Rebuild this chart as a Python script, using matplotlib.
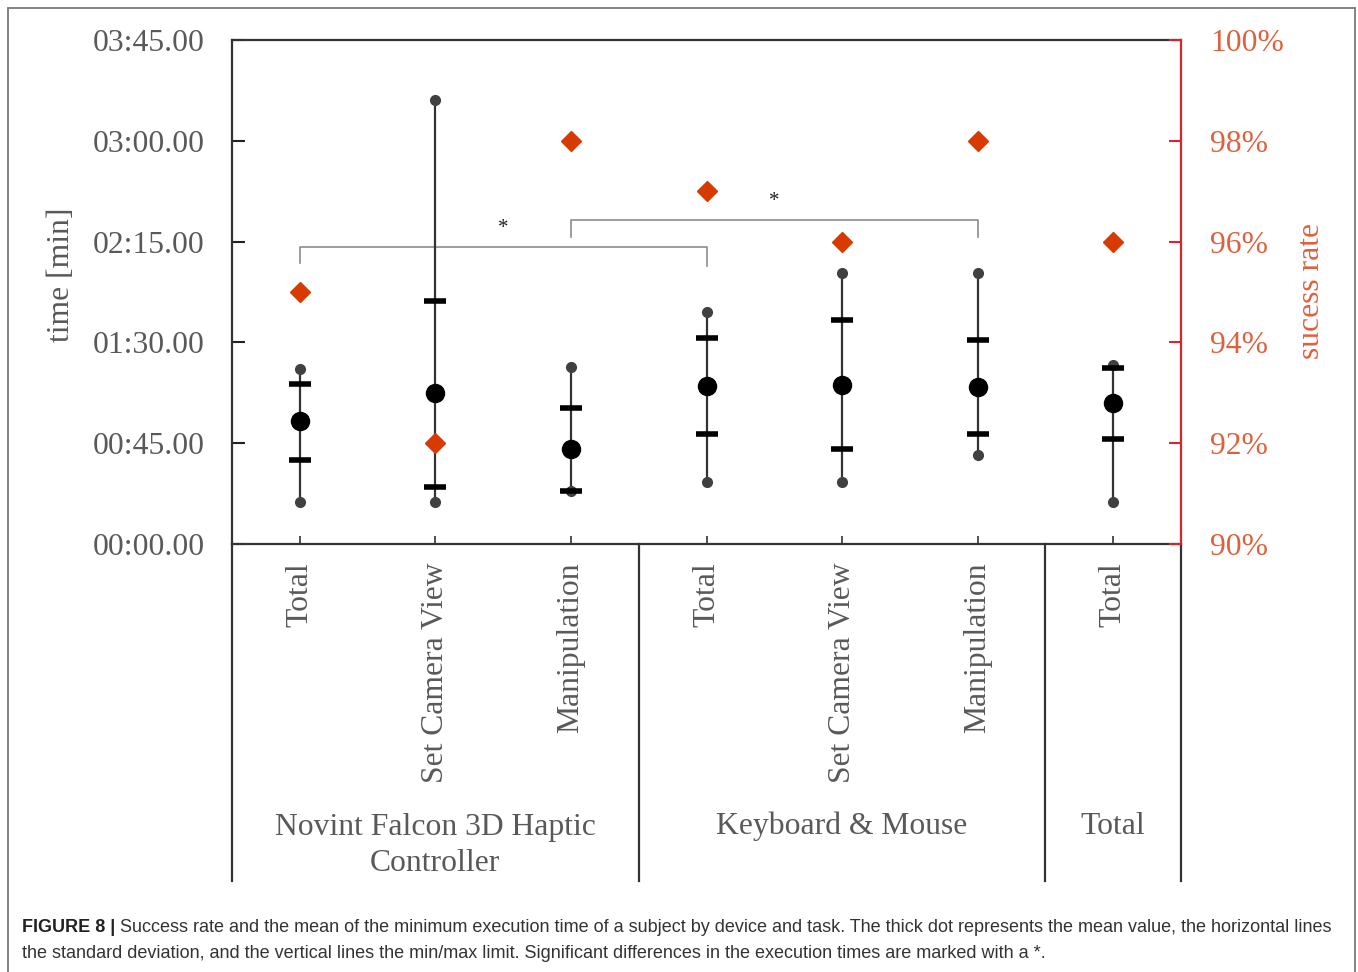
import matplotlib
matplotlib.use("Agg")
import matplotlib.pyplot as plt
from matplotlib.ticker import FuncFormatter, FixedLocator
from matplotlib.patches import Rectangle

# ---------------- data ----------------
categories = ["Total", "Set Camera View", "Manipulation",
              "Total", "Set Camera View", "Manipulation", "Total"]
groups = ["Novint Falcon 3D Haptic\nController", "Keyboard & Mouse", "Total"]
group_spans = [(0, 3), (3, 6), (6, 7)]
# times in seconds
mean_t = [54.9, 67.3, 42.3, 70.5, 70.8, 70.2, 62.8]
sd_hi = [71.4, 108.6, 60.6, 92.1, 100.0, 91.1, 78.7]
sd_lo = [37.5, 25.3, 23.8, 49.1, 42.3, 49.1, 46.9]
t_max = [78.1, 198.2, 78.9, 103.7, 120.8, 120.8, 79.9]
t_min = [18.8, 18.9, 23.7, 27.8, 27.8, 39.7, 18.6]
success = [95, 92, 98, 97, 96, 98, 96]
time_ticks = [0, 45, 90, 135, 180, 225]
rate_ticks = [90, 92, 94, 96, 98, 100]

caption_bold = "FIGURE 8 |"
caption_line1 = (" Success rate and the mean of the minimum execution time of a subject "
                 "by device and task. The thick dot represents the mean value, the horizontal lines")
caption_line2 = ("the standard deviation, and the vertical lines the min/max limit. "
                 "Significant differences in the execution times are marked with a *.")

SERIF = ["Liberation Serif", "DejaVu Serif"]
SANS = ["Liberation Sans", "DejaVu Sans"]
GRAY = "#595959"
RED_TXT = "#e0603c"
RED_AX = "#d9262b"
DIAM = "#d83b01"
FS = 22.8

fig = plt.figure(figsize=(13.58, 9.72), dpi=100)
ax = fig.add_axes([232/1358, 1-544/972, (1181-232)/1358, 504/972])
ax2 = ax.twinx()

xs = [i + 0.5 for i in range(len(categories))]

# whiskers
for x, lo, hi in zip(xs, t_min, t_max):
    ax.plot([x, x], [lo, hi], color="#333333", lw=1.6, zorder=3, solid_capstyle="butt")
ax.plot(xs, t_max, "o", color="#404040", ms=7, zorder=4)
ax.plot(xs, t_min, "o", color="#404040", ms=7, zorder=4)
ax.plot(xs, sd_hi, "_", color="black", ms=16, mew=4, zorder=5)
ax.plot(xs, sd_lo, "_", color="black", ms=16, mew=4, zorder=5)
ax.plot(xs, mean_t, "o", color="black", ms=13, zorder=6)

# significance brackets
bc = "#8c8c8c"
ax.plot([0.5, 0.5, 3.5, 3.5], [125.6, 132.6, 132.6, 123.9], color=bc, lw=1.2, zorder=2)
ax.plot([2.5, 2.5, 5.5, 5.5], [137.1, 144.6, 144.6, 137.1], color=bc, lw=1.2, zorder=2)
ax.text(2.0, 141.0, "*", ha="center", va="center", fontsize=15, family=SERIF, color="#222")
ax.text(4.0, 152.7, "*", ha="center", va="center", fontsize=15, family=SERIF, color="#222")

ax.set_xlim(0, 7)
ax.set_ylim(0, 225)
ax.yaxis.set_major_locator(FixedLocator(time_ticks))

def tfmt(v, pos):
    m = int(v // 60)
    s = v - 60 * m
    return f"{m:02d}:{s:05.2f}"

ax.yaxis.set_major_formatter(FuncFormatter(tfmt))
ax.set_xticks(xs)
ax.set_xticklabels([])
ax.tick_params(axis="x", direction="in", length=6, width=1.2, color="#333")
ax.tick_params(axis="y", direction="in", length=9, width=1.5, color="#222",
               labelsize=FS, labelcolor=GRAY, pad=19.5)
for lab in ax.get_yticklabels():
    lab.set_family(SERIF)

for s in ["left", "bottom", "top"]:
    ax.spines[s].set_color("#333333")
    ax.spines[s].set_linewidth(1.6)
ax.spines["right"].set_visible(False)

# right axis
ax2.set_ylim(90, 100)
ax2.plot(xs, success, "D", color=DIAM, ms=10, zorder=7)
ax2.yaxis.set_major_locator(FixedLocator(rate_ticks))
ax2.yaxis.set_major_formatter(FuncFormatter(lambda v, p: f"{int(round(v))}%"))
ax2.tick_params(axis="y", direction="in", length=9, width=1.5, color=RED_AX,
                labelsize=FS, labelcolor=RED_TXT, pad=20.8)
for lab in ax2.get_yticklabels():
    lab.set_family(SERIF)
ax2.spines["right"].set_color(RED_AX)
ax2.spines["right"].set_linewidth(1.6)
for s in ["left", "bottom", "top"]:
    ax2.spines[s].set_visible(False)

# axis titles
ax.text(-0.180, 0.534, "time [min]", transform=ax.transAxes, rotation=90,
        ha="center", va="center", fontsize=FS, family=SERIF, color=GRAY)
ax.text(1.137, 0.501, "sucess rate", transform=ax.transAxes, rotation=90,
        ha="center", va="center", fontsize=FS, family=SERIF, color=RED_TXT)

# category labels
tr = ax.get_xaxis_transform()
for x, c in zip(xs, categories):
    ax.text(x, -0.036, c, transform=tr, rotation=90, ha="center", va="top",
            fontsize=FS, family=SERIF, color=GRAY)

# group separators and labels
sep_bottom = -0.669
for xv in [0, 3, 6, 7]:
    ax.plot([xv, xv], [0, sep_bottom], transform=tr, clip_on=False,
            color="#333333", lw=1.6)
group_y = [-0.598, -0.561, -0.561]
for (a, b), g, gy in zip(group_spans, groups, group_y):
    ax.text((a + b) / 2, gy, g, transform=tr, ha="center", va="center",
            multialignment="center", linespacing=1.3,
            fontsize=FS, family=SERIF, color=GRAY)

# figure border
fig.patches.append(Rectangle((8/1358, -0.05), (1355-8)/1358, 1-8/972+0.05,
                             transform=fig.transFigure, fill=False,
                             edgecolor="#7a7a7a", lw=1.3))

# caption
cap_fs = 13.0
x0 = 22/1358
y1 = 1 - 927/972
y2 = 1 - 953/972
tb = fig.text(x0, y1, caption_bold, fontsize=cap_fs, family=SANS, weight="bold",
              color="#222", va="center", ha="left")
fig.canvas.draw()
r = fig.canvas.get_renderer()
bb = tb.get_window_extent(r)
fig.text(bb.x1 / fig.bbox.width, y1, caption_line1, fontsize=cap_fs, family=SANS,
         color="#333", va="center", ha="left")
fig.text(x0, y2, caption_line2, fontsize=cap_fs, family=SANS,
         color="#333", va="center", ha="left")

fig.savefig("out.png", dpi=100)
